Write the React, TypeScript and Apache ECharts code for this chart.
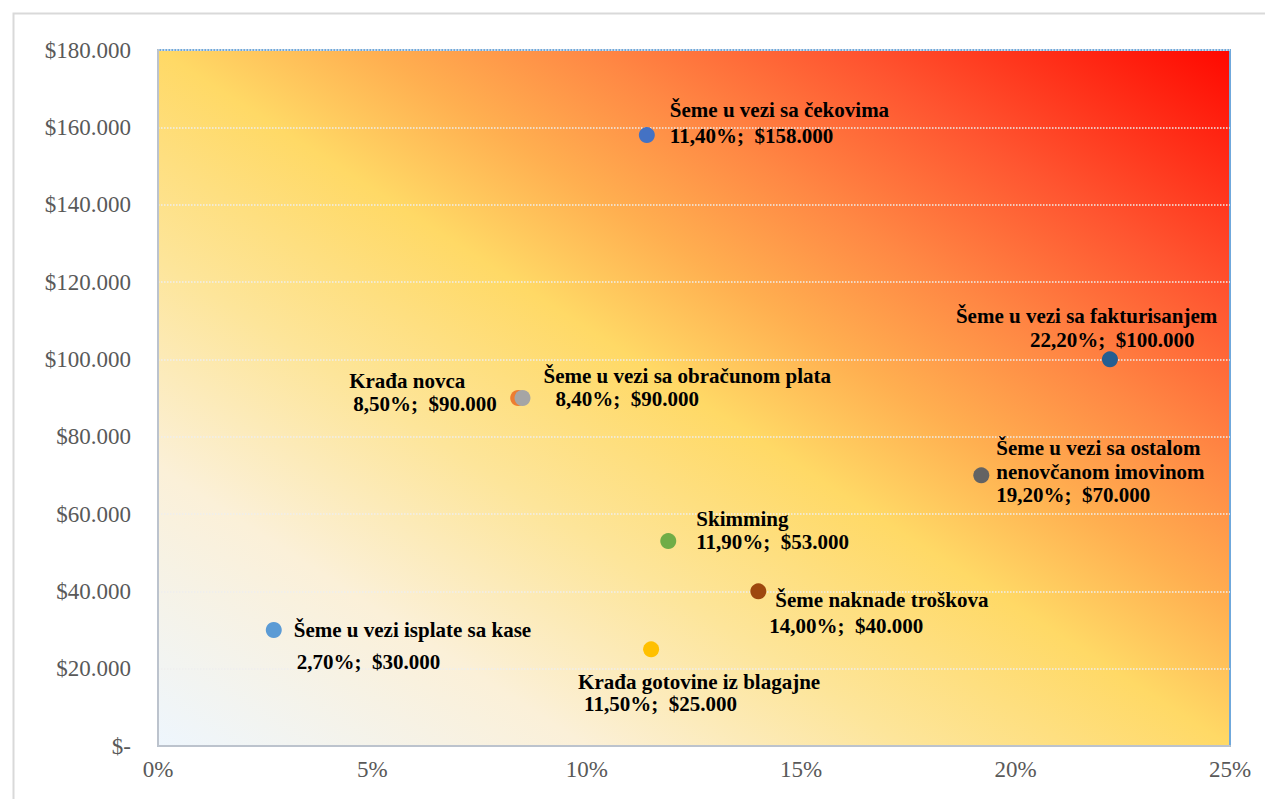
import React, { useEffect, useRef } from 'react';
import * as echarts from 'echarts';

// ---- data ----
const names = [
  'Šeme u vezi sa čekovima',
  'Šeme u vezi sa fakturisanjem',
  'Krađa novca',
  'Šeme u vezi sa obračunom plata',
  'Šeme u vezi sa ostalom\nnenovčanom imovinom',
  'Skimming',
  'Šeme naknade troškova',
  'Šeme u vezi isplate sa kase',
  'Krađa gotovine iz blagajne',
];
const xPct = [11.4, 22.2, 8.4, 8.5, 19.2, 11.9, 14.0, 2.7, 11.5];
const yUsd = [158000, 100000, 90000, 90000, 70000, 53000, 40000, 30000, 25000];
const labelPct = ['11,40%', '22,20%', '8,50%', '8,40%', '19,20%', '11,90%', '14,00%', '2,70%', '11,50%'];
const labelUsd = ['$158.000', '$100.000', '$90.000', '$90.000', '$70.000', '$53.000', '$40.000', '$30.000', '$25.000'];
const pointColors = ['#4472c4', '#255e91', '#ed7d31', '#a5a5a5', '#636363', '#70ad47', '#9e480e', '#5b9bd5', '#ffc000'];

// ---- label layout (styling, relative to the marker centre) ----
const labelLayout = [
  { dx: 23, dy: -25, lh: 26, ind: [0, 0] },
  { dx: -154, dy: -43, lh: 24, ind: [0, 74] },
  { dx: -169, dy: -17, lh: 23, ind: [0, 4] },
  { dx: 21, dy: -22, lh: 23, ind: [0, 12] },
  { dx: 15, dy: -27, lh: 23.5, ind: [0, 0, 0] },
  { dx: 28, dy: -22, lh: 23, ind: [0, 0] },
  { dx: 11, dy: 9, lh: 26, ind: [6, 0] },
  { dx: 20, dy: 0, lh: 32, ind: [0, 3] },
  { dx: -73, dy: 33, lh: 22, ind: [0, 6] },
];

const SYM = 16;

function fmtUsd(v: number) {
  if (v === 0) return '$-';
  return '$' + String(v).replace(/\B(?=(\d{3})+(?!\d))/g, '.');
}

export default function App() {
  const ref = useRef<HTMLDivElement>(null);
  useEffect(() => {
    if (!ref.current) return;
    const chart = echarts.init(ref.current, undefined, { renderer: 'svg' });
    const labelFont = { fontFamily: 'Liberation Serif', fontWeight: 'bold' as const, fontSize: 21, color: '#000000' };
    const data = names.map((n, i) => {
      const lines = [...n.split('\n'), `${labelPct[i]};  ${labelUsd[i]}`];
      const L = labelLayout[i];
      const rich: any = {};
      lines.forEach((_, k) => {
        rich['l' + k] = { ...labelFont, lineHeight: L.lh, padding: [0, 0, 0, L.ind[k] || 0] };
      });
      const text = lines.map((l, k) => `{l${k}|${l}}`).join('\n');
      return {
        value: [xPct[i], yUsd[i]],
        itemStyle: { color: pointColors[i], opacity: 1 },
        label: {
          show: true,
          formatter: () => text,
          position: [L.dx + SYM / 2, L.dy + SYM / 2 - L.lh / 2],
          align: 'left',
          verticalAlign: 'top',
          ...labelFont,
          lineHeight: L.lh,
          rich,
        },
      };
    });
    const axisLabelStyle = { fontFamily: 'Liberation Serif', fontSize: 23, color: '#595959' };
    chart.setOption({
      animation: false,
      backgroundColor: '#ffffff',
      graphic: [
        {
          type: 'rect',
          left: 11,
          top: 11,
          shape: { x: 0, y: 0, width: 1300, height: 900 },
          style: { fill: 'none', stroke: '#d9d9d9', lineWidth: 2 },
          z: -10,
        },
      ],
      grid: {
        left: 158,
        right: 35,
        top: 50,
        bottom: 53,
        show: true,
        borderColor: '#6fa8dc',
        borderWidth: 2,
        backgroundColor: new echarts.graphic.LinearGradient(0, 1, 1, 0, [
          { offset: 0, color: '#eef6fd' },
          { offset: 0.2, color: '#fbf0d8' },
          { offset: 0.35, color: '#fde59a' },
          { offset: 0.5, color: '#ffd966' },
          { offset: 0.6, color: '#ffaf50' },
          { offset: 0.7, color: '#ff8844' },
          { offset: 0.82, color: '#ff5530' },
          { offset: 1, color: '#ff0800' },
        ]),
      },
      xAxis: {
        type: 'value',
        min: 0,
        max: 25,
        interval: 5,
        axisLine: { show: true, lineStyle: { color: '#bcc3cd', width: 2 } },
        axisTick: { show: false },
        splitLine: { show: false },
        axisLabel: { ...axisLabelStyle, margin: 12, formatter: (v: number) => `${v}%` },
      },
      yAxis: {
        type: 'value',
        min: 0,
        max: 180000,
        interval: 20000,
        axisLine: { show: true, lineStyle: { color: '#bcc3cd', width: 2 } },
        axisTick: { show: false },
        splitLine: { show: true, lineStyle: { color: '#eeeeee', width: 1.5, type: 'dotted' } },
        axisLabel: { ...axisLabelStyle, margin: 27, formatter: (v: number) => fmtUsd(v) },
      },
      series: [
        {
          type: 'scatter',
          symbol: 'circle',
          symbolSize: SYM,
          itemStyle: { opacity: 1 },
          data,
        },
      ],
    });
    return () => chart.dispose();
  }, []);
  return <div ref={ref} style={{ position: 'absolute', left: 0, top: 0, width: 1265, height: 799 }} />;
}
